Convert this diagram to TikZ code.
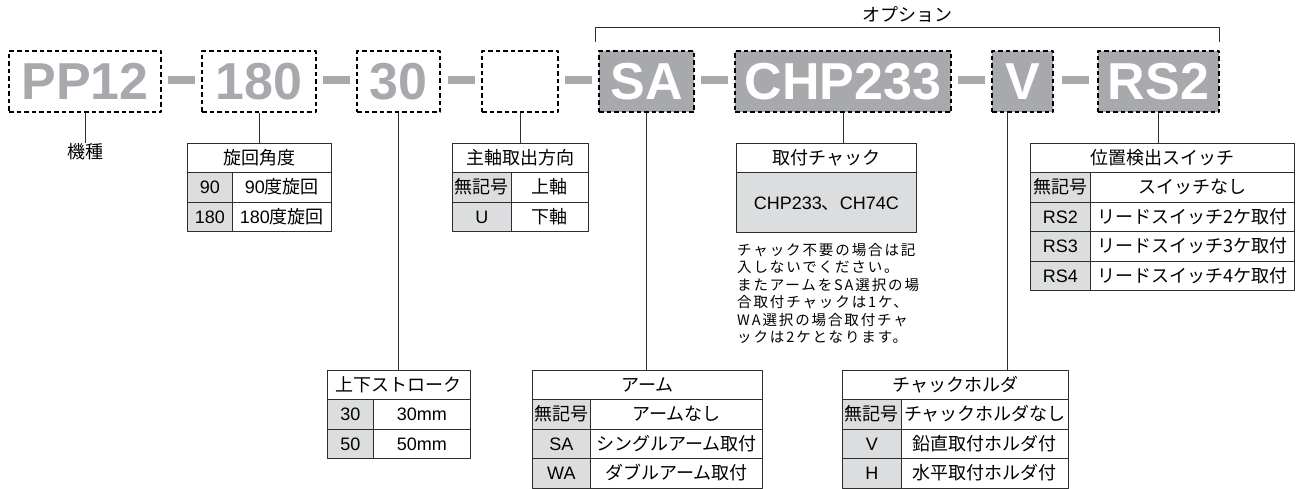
\documentclass[tikz,border=0pt]{standalone}
\usepackage{fontspec}
\setmainfont{Liberation Sans}
\newfontfamily\jp{Noto Sans CJK JP}
\newfontfamily\jpnote[LetterSpace=13]{Noto Sans CJK JP}
\usetikzlibrary{calc}
\definecolor{codegray}{RGB}{167,169,172}
\definecolor{keygray}{RGB}{220,221,222}
\definecolor{rulegray}{RGB}{45,45,45}
\newcommand{\codefont}{\fontsize{52}{52}\selectfont\bfseries}
\newcommand{\tabfont}{\fontsize{18}{18}\selectfont}
\newcommand{\notefont}{\jpnote\fontsize{14.5}{17.5}\selectfont}

\tikzset{
  codebox/.style={draw=black, line width=1.1pt, dash pattern=on 4.5pt off 3pt,
    minimum height=61pt, inner sep=0pt, font=\codefont},
  lightcode/.style={codebox, text=codegray},
  darkcode/.style={codebox, fill=codegray, text=white},
  joiner/.style={fill=codegray, minimum width=27pt, minimum height=8pt, inner sep=0pt},
  cell/.style={draw=rulegray, line width=0.8pt, minimum height=29.5pt, inner sep=0pt,
    anchor=north west, text height=15.6pt, text depth=2.4pt, font=\tabfont},
  keycell/.style={cell, fill=keygray},
  stem/.style={draw=rulegray, line width=0.9pt},
}

\begin{document}
\begin{tikzpicture}[x=1pt,y=-1pt,line join=round]
\useasboundingbox (0,0) rectangle (1296,488);

% model code
\node[lightcode, minimum width=152] (pp) at (85,81.5) {PP12};
\node[lightcode, minimum width=114] (b180) at (259,81.5) {180};
\node[lightcode, minimum width=83] (b30) at (398.5,81.5) {30};
\node[lightcode, minimum width=76] (blank) at (520,81.5) {};
\node[darkcode, minimum width=95] (sa) at (646.5,81.5) {SA};
\node[darkcode, minimum width=216] (chp) at (843,81.5) {CHP233};
\node[darkcode, minimum width=61] (v) at (1022.5,81.5) {V};
\node[darkcode, minimum width=121] (rs) at (1158.5,81.5) {RS2};

\node[joiner] (j1) at ($(pp.east)!0.5!(b180.west)+(0,-1.5)$) {};
\node[joiner] (j2) at ($(b180.east)!0.5!(b30.west)+(0,-1.5)$) {};
\node[joiner] (j3) at ($(b30.east)!0.5!(blank.west)+(0,-1.5)$) {};
\node[joiner] (j4) at ($(blank.east)!0.5!(sa.west)+(0,-1.5)$) {};
\node[joiner] (j5) at ($(sa.east)!0.5!(chp.west)+(0,-1.5)$) {};
\node[joiner] (j6) at ($(chp.east)!0.5!(v.west)+(0,-1.5)$) {};
\node[joiner] (j7) at ($(v.east)!0.5!(rs.west)+(0,-1.5)$) {};

% option bracket
\draw[stem] ([xshift=-3pt,yshift=8pt]sa.north west) -- ([xshift=-3pt,yshift=23pt]sa.north west)
  -- ([yshift=23pt]rs.north east) -- ([yshift=8pt]rs.north east);
\node[font=\jp\fontsize{18}{18}\selectfont, inner sep=0pt] (opt) at (907.5,15) {オプション};

% model
\node[font=\jp\fontsize{18}{18}\selectfont, inner sep=0pt, anchor=north] (kishu) at (85,143) {機種};
\draw[stem] (pp.south) -- (kishu.north);

% swing angle
\node[cell, minimum width=144] (ang) at (187,142.5) {\jp 旋回角度};
\foreach \k/\v [count=\i] in {90/{90\jp 度旋回},180/{180\jp 度旋回}}{
  \node[keycell, minimum width=45] (ang-k\i) at (187,142.5+29.5*\i) {\k};
  \node[cell, minimum width=99] (ang-v\i) at (232,142.5+29.5*\i) {\v};
}
\draw[stem] (b180.south) -- (b180.south |- ang.north);

% stroke
\node[cell, minimum width=143] (strk) at (327,369.5) {\jp 上下ストローク};
\foreach \k/\v [count=\i] in {30/30mm,50/50mm}{
  \node[keycell, minimum width=46] (strk-k\i) at (327,369.5+29.5*\i) {\k};
  \node[cell, minimum width=97] (strk-v\i) at (373,369.5+29.5*\i) {\v};
}
\draw[stem] (b30.south) -- (b30.south |- strk.north);

% spindle direction
\node[cell, minimum width=136] (spdl) at (452,142.5) {\jp 主軸取出方向};
\foreach \k/\v [count=\i] in {{\jp 無記号}/{\jp 上軸},U/{\jp 下軸}}{
  \node[keycell, minimum width=59] (spdl-k\i) at (452,142.5+29.5*\i) {\k};
  \node[cell, minimum width=77] (spdl-v\i) at (511,142.5+29.5*\i) {\v};
}
\draw[stem] (blank.south) -- (blank.south |- spdl.north);

% arm
\node[cell, minimum width=230] (arm) at (532,369.5) {\jp アーム};
\foreach \k/\v [count=\i] in {{\jp 無記号}/{\jp アームなし},SA/{\jp シングルアーム取付},WA/{\jp ダブルアーム取付}}{
  \node[keycell, minimum width=58] (arm-k\i) at (532,369.5+29.5*\i) {\k};
  \node[cell, minimum width=172] (arm-v\i) at (590,369.5+29.5*\i) {\v};
}
\draw[stem] (sa.south) -- (sa.south |- arm.north);

% chuck
\node[cell, minimum width=180] (chuck) at (736,142.5) {\jp 取付チャック};
\node[keycell, minimum width=180, minimum height=60] (chuck-b) at (736,172) {CHP233{\jp 、}CH74C};
\draw[stem] (chp.south) -- (chp.south |- chuck.north);
\node[anchor=north west, align=left, inner sep=0pt, font=\notefont] (note) at (737,243)
  {チャック不要の場合は記\\入しないでください。\\またアームをSA選択の場\\合取付チャックは1ケ、\\WA選択の場合取付チャ\\ックは2ケとなります。};

% chuck holder
\node[cell, minimum width=226] (hold) at (842,369.5) {\jp チャックホルダ};
\foreach \k/\v [count=\i] in {{\jp 無記号}/{\jp チャックホルダなし},V/{\jp 鉛直取付ホルダ付},H/{\jp 水平取付ホルダ付}}{
  \node[keycell, minimum width=59] (hold-k\i) at (842,369.5+29.5*\i) {\k};
  \node[cell, minimum width=167] (hold-v\i) at (901,369.5+29.5*\i) {\v};
}
\draw[stem] ([xshift=-15.5pt]v.south) -- ([xshift=-15.5pt]v.south |- hold.north);

% position switch
\node[cell, minimum width=264] (sw) at (1030,142.5) {\jp 位置検出スイッチ};
\foreach \k/\v [count=\i] in {{\jp 無記号}/{\jp スイッチなし},RS2/{\jp リードスイッチ2ケ取付},RS3/{\jp リードスイッチ3ケ取付},RS4/{\jp リードスイッチ4ケ取付}}{
  \node[keycell, minimum width=60] (sw-k\i) at (1030,142.5+29.5*\i) {\k};
  \node[cell, minimum width=204] (sw-v\i) at (1090,142.5+29.5*\i) {\v};
}
\draw[stem] (rs.south) -- (rs.south |- sw.north);
\end{tikzpicture}
\end{document}
